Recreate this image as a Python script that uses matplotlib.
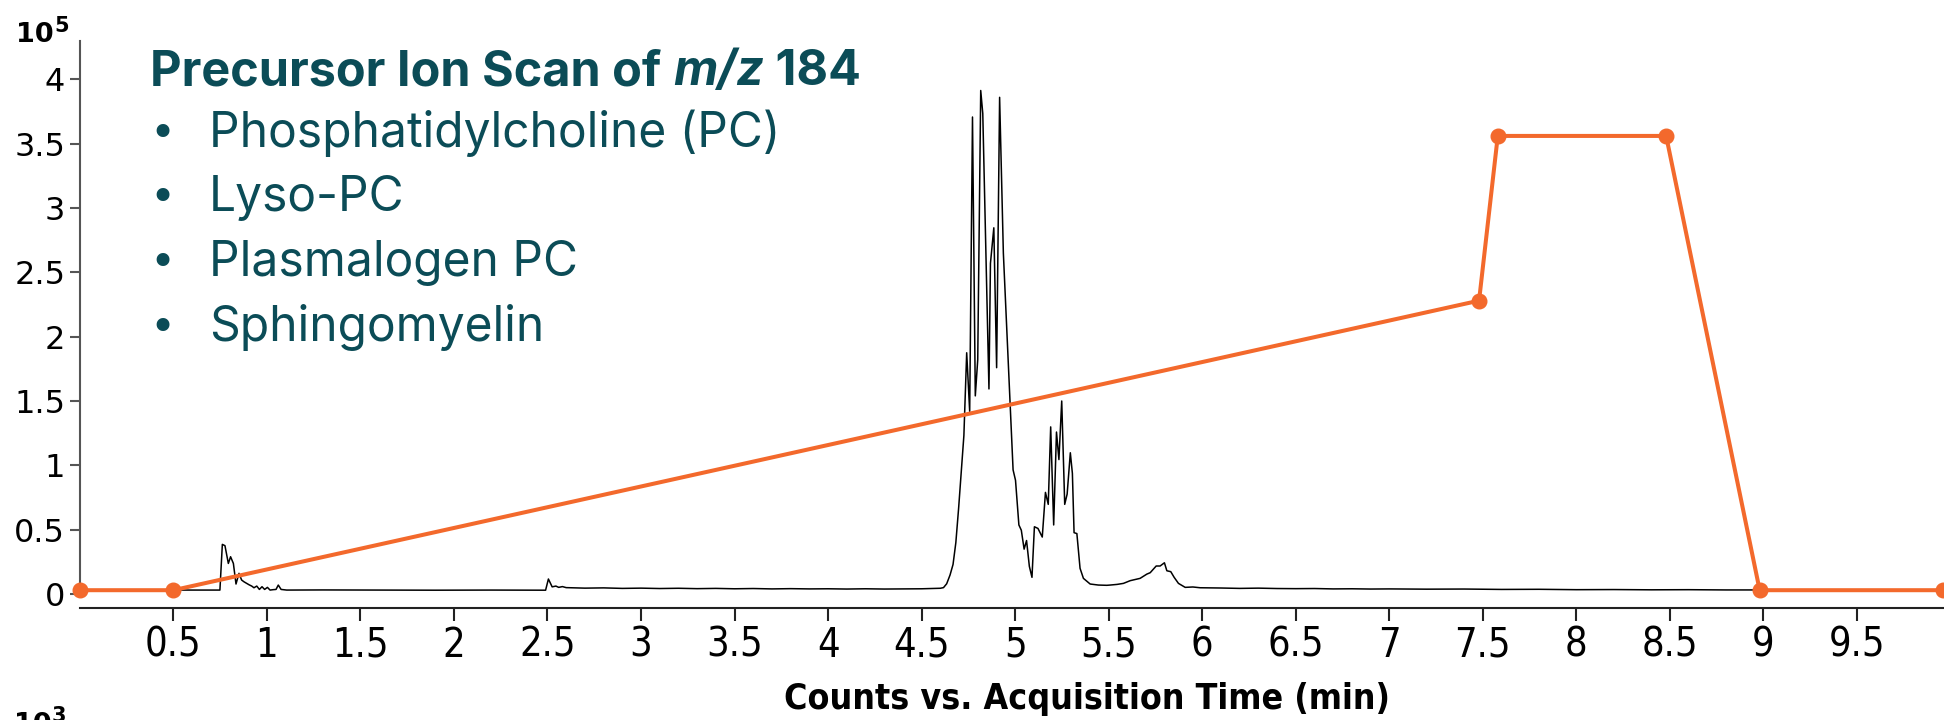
import matplotlib
matplotlib.use('Agg')
import matplotlib.pyplot as plt
from matplotlib import font_manager
from matplotlib.font_manager import FontProperties

flist = font_manager.fontManager.ttflist
avail = {f.name for f in flist}


def find_condensed(bold):
    best = None
    for f in flist:
        narrow = ('Narrow' in f.name or 'Condensed' in f.name
                  or str(f.stretch) in ('condensed', 'semi-condensed', 'extra-condensed'))
        if not narrow or f.style != 'normal':
            continue
        w = f.weight if isinstance(f.weight, int) else (700 if 'bold' in str(f.weight) else 400)
        if (w >= 600) != bold:
            continue
        score = 0 if 'Liberation' in f.name else (1 if 'DejaVu' in f.name else 2)
        if best is None or score < best[0]:
            best = (score, f.fname)
    return best[1] if best else None


cond_reg = find_condensed(False)
cond_bold = find_condensed(True)
if cond_reg is not None:
    fp_tick = FontProperties(fname=cond_reg, size=28.5)
else:
    fp_tick = FontProperties(family='Liberation Sans', size=25)
if cond_bold is not None:
    fp_xlabel = FontProperties(fname=cond_bold, size=25.6)
else:
    fp_xlabel = FontProperties(family='Liberation Sans', weight='bold', size=23)

SANS = 'Inter' if 'Inter' in avail else 'DejaVu Sans'

# ---------------- data ----------------
# solvent gradient overlay (orange), in units of 1e5 on the shared axis
gradient_time = [0.0, 0.5, 7.48, 7.58, 8.48, 8.98, 9.96]
gradient_level = [0.03, 0.03, 2.28, 3.56, 3.56, 0.03, 0.03]

# chromatogram (counts x 1e5)
chrom_time = [
    0.000, 0.749, 0.762, 0.776, 0.794, 0.806, 0.821, 0.835, 0.851, 0.865,
    0.878, 0.892, 0.905, 0.919, 0.931, 0.946, 0.960, 0.974, 0.988, 1.003,
    1.017, 1.033, 1.049, 1.061, 1.076, 1.106, 1.300, 1.600, 1.900, 2.200,
    2.490, 2.505, 2.525, 2.545, 2.560, 2.580, 2.600, 2.700, 2.800, 2.900,
    3.000, 3.100, 3.200, 3.300, 3.400, 3.500, 3.600, 3.700, 3.800, 3.900,
    4.000, 4.100, 4.200, 4.300, 4.400, 4.500, 4.600, 4.617, 4.634, 4.652,
    4.668, 4.683, 4.698, 4.726, 4.741, 4.757, 4.772, 4.787, 4.800, 4.816,
    4.827, 4.860, 4.868, 4.886, 4.901, 4.917, 4.937, 4.989, 5.002, 5.020,
    5.033, 5.048, 5.061, 5.076, 5.090, 5.103, 5.122, 5.145, 5.162, 5.177,
    5.190, 5.206, 5.221, 5.234, 5.249, 5.265, 5.278, 5.295, 5.306, 5.315,
    5.330, 5.338, 5.347, 5.365, 5.401, 5.445, 5.490, 5.508, 5.545, 5.579,
    5.615, 5.668, 5.704, 5.722, 5.754, 5.775, 5.798, 5.811, 5.832, 5.850,
    5.873, 5.909, 5.950, 5.989, 6.100, 6.200, 6.300, 6.400, 6.500, 6.600,
    6.700, 6.800, 6.900, 7.000, 7.200, 7.400, 7.600, 7.800, 8.000, 8.200,
    8.400, 8.600, 8.800, 9.000, 9.300, 9.600, 9.960,
]
chrom_counts = [
    0.031, 0.031, 0.386, 0.376, 0.238, 0.290, 0.238, 0.078, 0.161, 0.109,
    0.095, 0.083, 0.072, 0.062, 0.049, 0.062, 0.036, 0.057, 0.036, 0.052,
    0.031, 0.034, 0.036, 0.070, 0.036, 0.031, 0.032, 0.031, 0.030, 0.031,
    0.030, 0.117, 0.056, 0.062, 0.052, 0.058, 0.050, 0.046, 0.048, 0.044,
    0.046, 0.043, 0.045, 0.042, 0.044, 0.041, 0.043, 0.040, 0.042, 0.040,
    0.041, 0.039, 0.041, 0.039, 0.040, 0.041, 0.045, 0.050, 0.080, 0.148,
    0.230, 0.400, 0.670, 1.232, 1.875, 1.420, 3.707, 1.540, 1.820, 3.913,
    3.734, 1.594, 2.570, 2.846, 1.759, 3.860, 2.650, 0.965, 0.884, 0.537,
    0.496, 0.349, 0.416, 0.215, 0.130, 0.523, 0.510, 0.443, 0.790, 0.697,
    1.299, 0.537, 1.259, 1.045, 1.500, 0.697, 0.777, 1.098, 0.938, 0.477,
    0.470, 0.342, 0.200, 0.122, 0.078, 0.070, 0.068, 0.070, 0.075, 0.083,
    0.104, 0.122, 0.155, 0.166, 0.218, 0.218, 0.243, 0.181, 0.174, 0.130,
    0.083, 0.052, 0.055, 0.049, 0.047, 0.044, 0.046, 0.043, 0.042, 0.043,
    0.040, 0.041, 0.039, 0.040, 0.038, 0.039, 0.036, 0.037, 0.034, 0.035,
    0.033, 0.034, 0.032, 0.032, 0.031, 0.030, 0.030,
]

x_ticks = [0.5, 1, 1.5, 2, 2.5, 3, 3.5, 4, 4.5, 5, 5.5, 6, 6.5, 7, 7.5, 8, 8.5, 9, 9.5]
x_tick_labels = ['0.5', '1', '1.5', '2', '2.5', '3', '3.5', '4', '4.5', '5',
                 '5.5', '6', '6.5', '7', '7.5', '8', '8.5', '9', '9.5']
y_ticks = [0, 0.5, 1, 1.5, 2, 2.5, 3, 3.5, 4]
y_tick_labels = ['0', '0.5', '1', '1.5', '2', '2.5', '3', '3.5', '4']

title_parts = [('Precursor Ion Scan of ', 'normal'), ('m/z', 'italic'), (' 184', 'normal')]
bullet_items = ['Phosphatidylcholine (PC)', 'Lyso-PC', 'Plasmalogen PC', 'Sphingomyelin']
x_label = 'Counts vs. Acquisition Time (min)'

# ---------------- style ----------------
TEAL = '#0B4C57'
ORANGE = '#F3692C'
W, H = 1944, 720

fig = plt.figure(figsize=(W / 100, H / 100), dpi=100)
ax = fig.add_axes([79.8 / W, (H - 607.7) / H, (1943 - 79.8) / W, (607.7 - 40.7) / H])

ax.plot(chrom_time, chrom_counts, color='black', lw=1.1, zorder=2)
ax.plot(gradient_time, gradient_level, color=ORANGE, lw=2.9, marker='o', ms=10.5,
        clip_on=False, zorder=3)

ax.set_xlim(0, 9.96)
ax.set_ylim(-0.106, 4.30)

for s in ['top', 'right']:
    ax.spines[s].set_visible(False)
ax.spines['left'].set_bounds(0, 4.30)
ax.spines['left'].set_color('#555555')
ax.spines['left'].set_linewidth(1.5)
ax.spines['bottom'].set_color('#222222')
ax.spines['bottom'].set_linewidth(1.5)

ax.set_xticks(x_ticks)
ax.set_xticklabels(x_tick_labels, fontproperties=fp_tick)
ax.set_yticks(y_ticks)
ax.set_yticklabels(y_tick_labels, fontfamily='DejaVu Sans', fontsize=23)
ax.tick_params(axis='x', length=9, width=1.5, color='#222222', pad=4)
ax.tick_params(axis='y', length=7.5, width=1.5, color='#555555', pad=3)

ax.set_xlabel(x_label, fontproperties=fp_xlabel, va='center')
ax.xaxis.set_label_coords((1087 - 79.8) / (1943 - 79.8), -(699 - 607.7) / 567)

# multiplier labels (base + superscript)
for base_x, base_y, sup in [(16, 42, '5'), (14, 732, '3')]:
    fig.text(base_x / W, 1 - base_y / H, '10', fontsize=19.5, fontweight='bold',
             family='DejaVu Sans', va='baseline', ha='left')
    fig.text((base_x + 38) / W, 1 - (base_y - 10) / H, sup, fontsize=15, fontweight='bold',
             family='DejaVu Sans', va='baseline', ha='left')

# title with italic m/z
renderer = fig.canvas.get_renderer()
x = 150
for txt, style in title_parts:
    t = fig.text(x / W, 1 - 85 / H, txt, fontsize=35, fontweight='bold', fontstyle=style,
                 family=SANS, color=TEAL, va='baseline', ha='left')
    bb = t.get_window_extent(renderer)
    x = bb.x1

# bullet list
for i, item in enumerate(bullet_items):
    yb = 146.7 + i * 64.8
    fig.text(149 / W, 1 - yb / H, '\u2022', fontsize=32, family='DejaVu Sans', color=TEAL,
             va='baseline', ha='left')
    fig.text(209 / W, 1 - yb / H, item, fontsize=34.5, family=SANS, color=TEAL,
             va='baseline', ha='left')

fig.savefig('out.png', dpi=100)
